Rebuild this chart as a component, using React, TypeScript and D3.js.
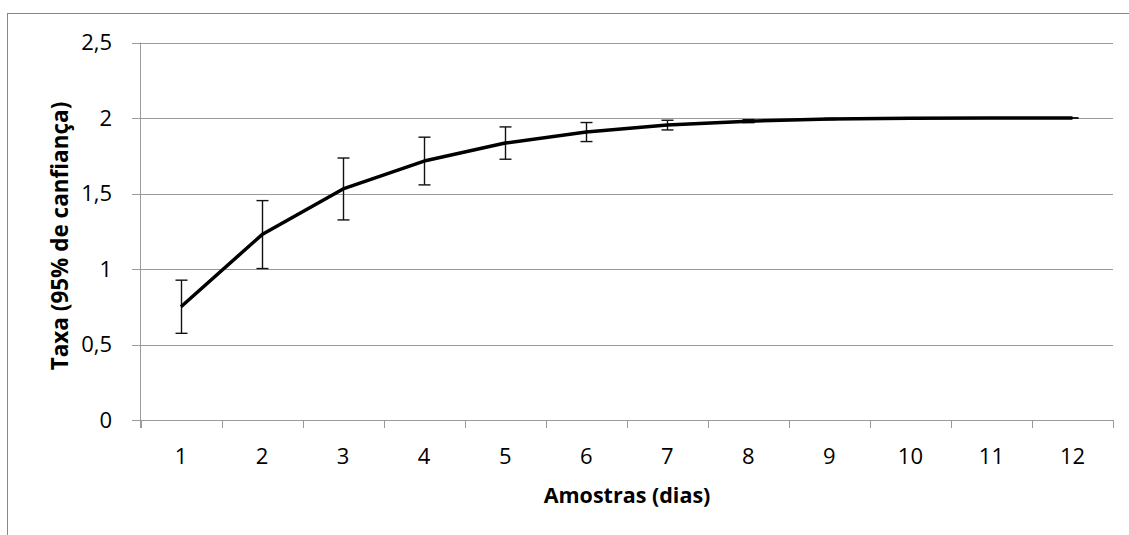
import React from "react";
import * as d3 from "d3";

const days = ["1", "2", "3", "4", "5", "6", "7", "8", "9", "10", "11", "12"];
const rate = [0.75, 1.228, 1.53, 1.715, 1.834, 1.907, 1.953, 1.979, 1.993, 1.998, 2.0, 2.0];
const ciHalf = [0.176, 0.225, 0.205, 0.158, 0.107, 0.063, 0.032, 0.01, 0.004, 0.002, 0.001, 0.001];
const yTicks = [0, 0.5, 1, 1.5, 2, 2.5];
const yTickLabels = ["0", "0,5", "1", "1,5", "2", "2,5"];

const W = 1129;
const H = 535;
const left = 140.5;
const right = 1113;
const top = 42.5;
const bottom = 420;
const font = "'Open Sans', 'Noto Sans', sans-serif";

export default function App() {
  const x = d3.scaleBand<string>().domain(days).range([left, right]).padding(0);
  const y = d3.scaleLinear().domain([0, 2.5]).range([bottom, top]);
  const cx = (d: string) => (x(d) as number) + x.bandwidth() / 2;
  const pts: [number, number][] = days.map((d, i) => [cx(d), y(rate[i])]);
  const line = d3.line()(pts) as string;
  const boundaries = d3.range(days.length + 1).map((i) => left + i * x.bandwidth());

  return (
    <svg width={W} height={H} style={{ position: "absolute", left: 0, top: 0, background: "#fff" }}>
      <rect x={7.5} y={13.5} width={W + 10} height={H + 10} fill="#fff" stroke="#888" strokeWidth={1} />
      {yTicks.map((t, i) => (
        <g key={t}>
          <line x1={132} x2={right} y1={Math.round(y(t)) + 0.5} y2={Math.round(y(t)) + 0.5} stroke="#9a9a9a" strokeWidth={1} />
          <text x={112} y={y(t)} dy="0.36em" textAnchor="end" fontFamily={font} fontSize={22} fill="#000">
            {yTickLabels[i]}
          </text>
        </g>
      ))}
      <line x1={left} x2={left} y1={top} y2={bottom + 8} stroke="#9a9a9a" strokeWidth={1} />
      {boundaries.map((bx, i) => (
        <line key={i} x1={Math.round(bx) + 0.5} x2={Math.round(bx) + 0.5} y1={bottom} y2={bottom + 8} stroke="#9a9a9a" strokeWidth={1} />
      ))}
      {days.map((d) => (
        <text key={d} x={cx(d)} y={456} dy="0.36em" textAnchor="middle" fontFamily={font} fontSize={22} fill="#000">
          {d}
        </text>
      ))}
      {days.map((d, i) => {
        const xc = Math.round(cx(d)) + 0.5;
        const y1 = y(rate[i] + ciHalf[i]);
        const y0 = y(rate[i] - ciHalf[i]);
        return (
          <g key={"e" + d} stroke="#111" strokeWidth={1.4}>
            <line x1={xc} x2={xc} y1={y1} y2={y0} />
            <line x1={xc - 6} x2={xc + 6} y1={y1} y2={y1} />
            <line x1={xc - 6} x2={xc + 6} y1={y0} y2={y0} />
          </g>
        );
      })}
      <path d={line} fill="none" stroke="#000" strokeWidth={3.5} strokeLinejoin="round" />
      <text
        transform={`translate(60,236) rotate(-90)`}
        textAnchor="middle"
        dy="0.36em"
        fontFamily={font}
        fontWeight="bold"
        fontSize={22.5}
        fill="#000"
      >
        Taxa (95% de canfiança)
      </text>
      <text x={627} y={495} dy="0.36em" textAnchor="middle" fontFamily={font} fontWeight="bold" fontSize={21.5} fill="#000">
        Amostras (dias)
      </text>
    </svg>
  );
}
